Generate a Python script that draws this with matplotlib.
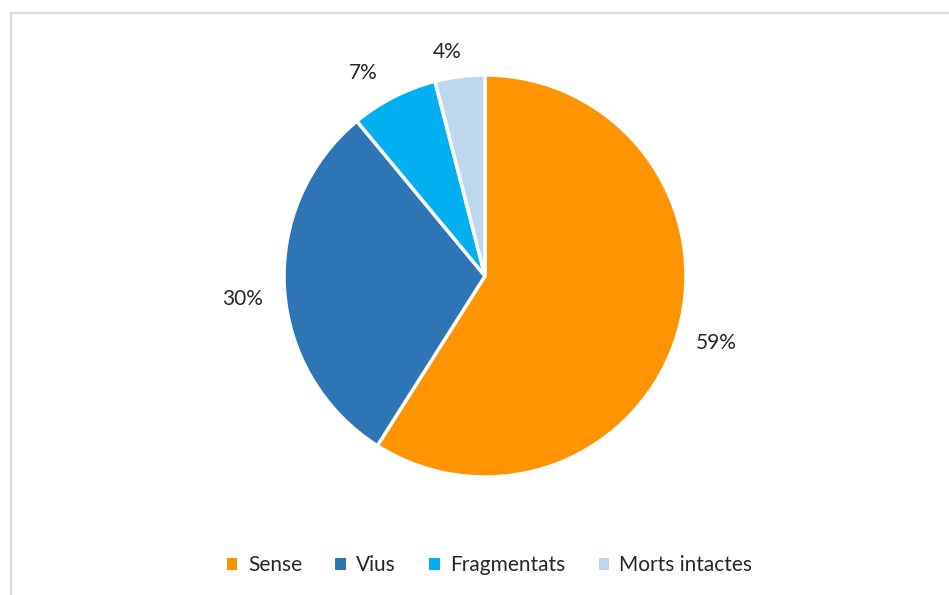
import matplotlib
matplotlib.use("Agg")
import matplotlib.pyplot as plt
from matplotlib.patches import Rectangle, Patch
import numpy as np

categories = ["Sense", "Vius", "Fragmentats", "Morts intactes"]
values = [59, 30, 7, 4]
colors = ["#FF9300", "#2E75B6", "#00B0F0", "#BDD7EE"]
label_dist = [1.20, 1.21, 1.18, 1.13]
label_shift = [0, 1.8, 4, 2.5]  # degrees, nudges label placement

plt.rcParams["font.family"] = ["Lato", "DejaVu Sans"]

fig = plt.figure(figsize=(9.49, 5.95), dpi=100)
fig.patch.set_facecolor("white")

# chart frame
fig.patches.append(Rectangle((10.5 / 949, -0.2), 2.0, 1 - 12.5 / 595 + 0.2,
                             transform=fig.transFigure, fill=False,
                             edgecolor="#D9D9D9", linewidth=1.6, zorder=0))

r_px = 201
cx, cy = 485, 276
ax = fig.add_axes([(cx - r_px) / 949, 1 - (cy + r_px) / 595,
                   2 * r_px / 949, 2 * r_px / 595])
wedges, _ = ax.pie(values, colors=colors, startangle=90, counterclock=False,
                   radius=1.0,
                   wedgeprops=dict(edgecolor="white", linewidth=2.5))
ax.set_xlim(-1, 1)
ax.set_ylim(-1, 1)
ax.set_aspect("equal")
ax.axis("off")

for w, v, d, s in zip(wedges, values, label_dist, label_shift):
    ang = np.deg2rad((w.theta1 + w.theta2) / 2 + s)
    ax.text(d * np.cos(ang), d * np.sin(ang), f"{v}%", ha="center",
            va="center", fontsize=15, color="#262626", clip_on=False)

handles = [Patch(facecolor=c, edgecolor="none") for c in colors]
fig.legend(handles, categories, loc="center", bbox_to_anchor=(0.516, 1 - 565 / 595),
           ncol=4, frameon=False, fontsize=15, handlelength=0.5,
           handleheight=0.5, handletextpad=0.5, columnspacing=1.6,
           labelcolor="#262626")

fig.savefig("out.png", dpi=100, facecolor="white")
